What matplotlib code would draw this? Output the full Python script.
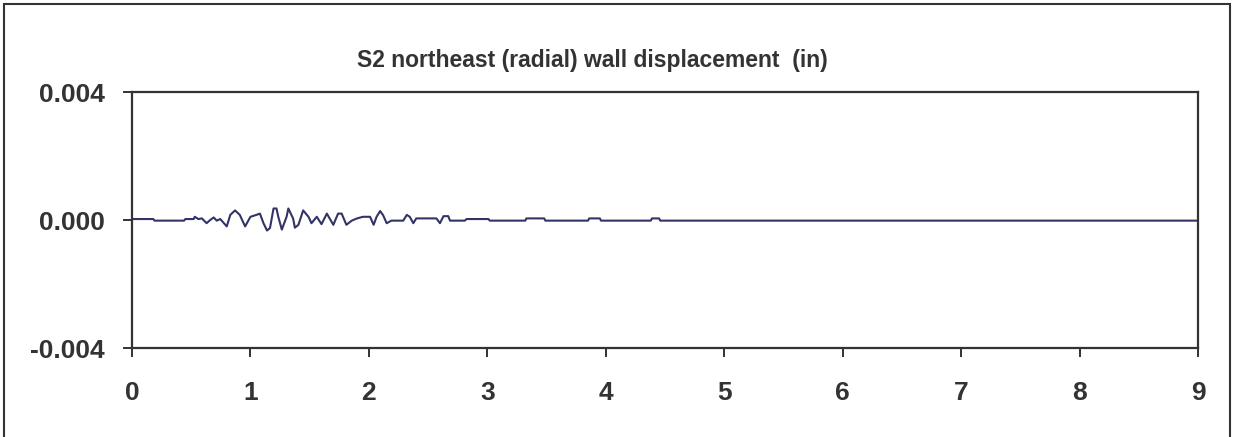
import matplotlib
matplotlib.use("Agg")
import matplotlib.pyplot as plt
from matplotlib.patches import Rectangle
from matplotlib import font_manager

# Data (time in s, displacement in inches)
time_s = [0.0, 0.18, 0.19, 0.44, 0.45, 0.52, 0.53, 0.56, 0.59, 0.63, 0.66, 0.69,
          0.715, 0.745, 0.80, 0.83, 0.87, 0.91, 0.955, 1.00, 1.05, 1.08, 1.11,
          1.14, 1.165, 1.195, 1.22, 1.235, 1.265, 1.305, 1.32, 1.36, 1.375,
          1.405, 1.445, 1.49, 1.515, 1.56, 1.60, 1.645, 1.70, 1.74, 1.77, 1.81,
          1.855, 1.90, 1.95, 2.01, 2.04, 2.065, 2.095, 2.12, 2.15, 2.19, 2.29,
          2.32, 2.345, 2.375, 2.40, 2.57, 2.60, 2.63, 2.67, 2.685, 2.81, 2.825,
          3.01, 3.02, 3.32, 3.33, 3.48, 3.49, 3.85, 3.86, 3.95, 3.96, 4.38,
          4.39, 4.45, 4.46, 9.0]
displacement_in = [0.00003, 0.00003, -0.00002, -0.00002, 0.00003, 0.00003, 0.0001,
                   0.00003, 0.00005, -0.0001, 0.0, 0.00008, -0.00002, 0.00003,
                   -0.0002, 0.00016, 0.0003, 0.00016, -0.0002, 0.0001, 0.00016,
                   0.0002, -0.0001, -0.00033, -0.00025, 0.00036, 0.00036, 0.0001,
                   -0.0003, 0.0001, 0.00036, 0.00005, -0.00024, -0.00015, 0.0003,
                   0.0001, -0.0001, 0.0001, -0.00013, 0.0002, -0.00015, 0.0002,
                   0.0002, -0.00015, -0.00002, 0.00005, 0.0001, 0.0001, -0.00015,
                   0.0001, 0.00028, 0.00015, -0.0001, -0.00002, -0.00002, 0.00016,
                   0.0001, -0.0001, 0.00005, 0.00005, -0.0001, 0.00012, 0.00012,
                   -0.00002, -0.00002, 0.00003, 0.00003, -0.00002, -0.00002,
                   0.00005, 0.00005, -0.00002, -0.00002, 0.00005, 0.00005,
                   -0.00002, -0.00002, 0.00005, 0.00005, -0.00002, -0.00002]

x_ticks = [0, 1, 2, 3, 4, 5, 6, 7, 8, 9]
y_ticks = [-0.004, 0.0, 0.004]
y_tick_labels = ["-0.004", "0.000", "0.004"]
title = "S2 northeast (radial) wall displacement  (in)"

W, H = 1233, 437
fig = plt.figure(figsize=(W / 100, H / 100), dpi=100)
plt.rcParams['font.family'] = ['Liberation Sans', 'DejaVu Sans']

names = {f.name for f in font_manager.fontManager.ttflist}
if 'Liberation Sans Narrow' in names:
    title_family = ['Liberation Sans Narrow', 'DejaVu Sans']
    title_size = 19.5
else:
    title_family = ['Liberation Sans', 'DejaVu Sans']
    title_size = 16.5

txt = '#333333'
ax = fig.add_axes([132 / W, (H - 348) / H, (1198 - 132) / W, (348 - 92) / H])
ax.plot(time_s, displacement_in, color='#333366', linewidth=1.5)
ax.set_xlim(0, 9)
ax.set_ylim(-0.004, 0.004)
ax.set_xticks(x_ticks)
ax.set_xticklabels([str(v) for v in x_ticks])
ax.set_yticks(y_ticks)
ax.set_yticklabels(y_tick_labels)
for sp in ax.spines.values():
    sp.set_linewidth(1.6)
    sp.set_color(txt)
ax.tick_params(axis='both', direction='out', length=6.5, width=1.4, color=txt,
               labelsize=19, labelcolor=txt)
ax.tick_params(axis='x', pad=17)
ax.tick_params(axis='y', pad=13)
for lab in ax.get_xticklabels() + ax.get_yticklabels():
    lab.set_fontweight('bold')

fig.text(592 / W, 1 - 60 / H, title, ha='center', va='center',
         fontsize=title_size, fontweight='bold', color=txt, family=title_family)

fig.patches.append(Rectangle((4 / W, -0.05), (1230 - 4) / W, 1 - 4 / H + 0.05,
                             transform=fig.transFigure, fill=False,
                             edgecolor='#333333', linewidth=1.5))

fig.savefig("out.png", dpi=100)
